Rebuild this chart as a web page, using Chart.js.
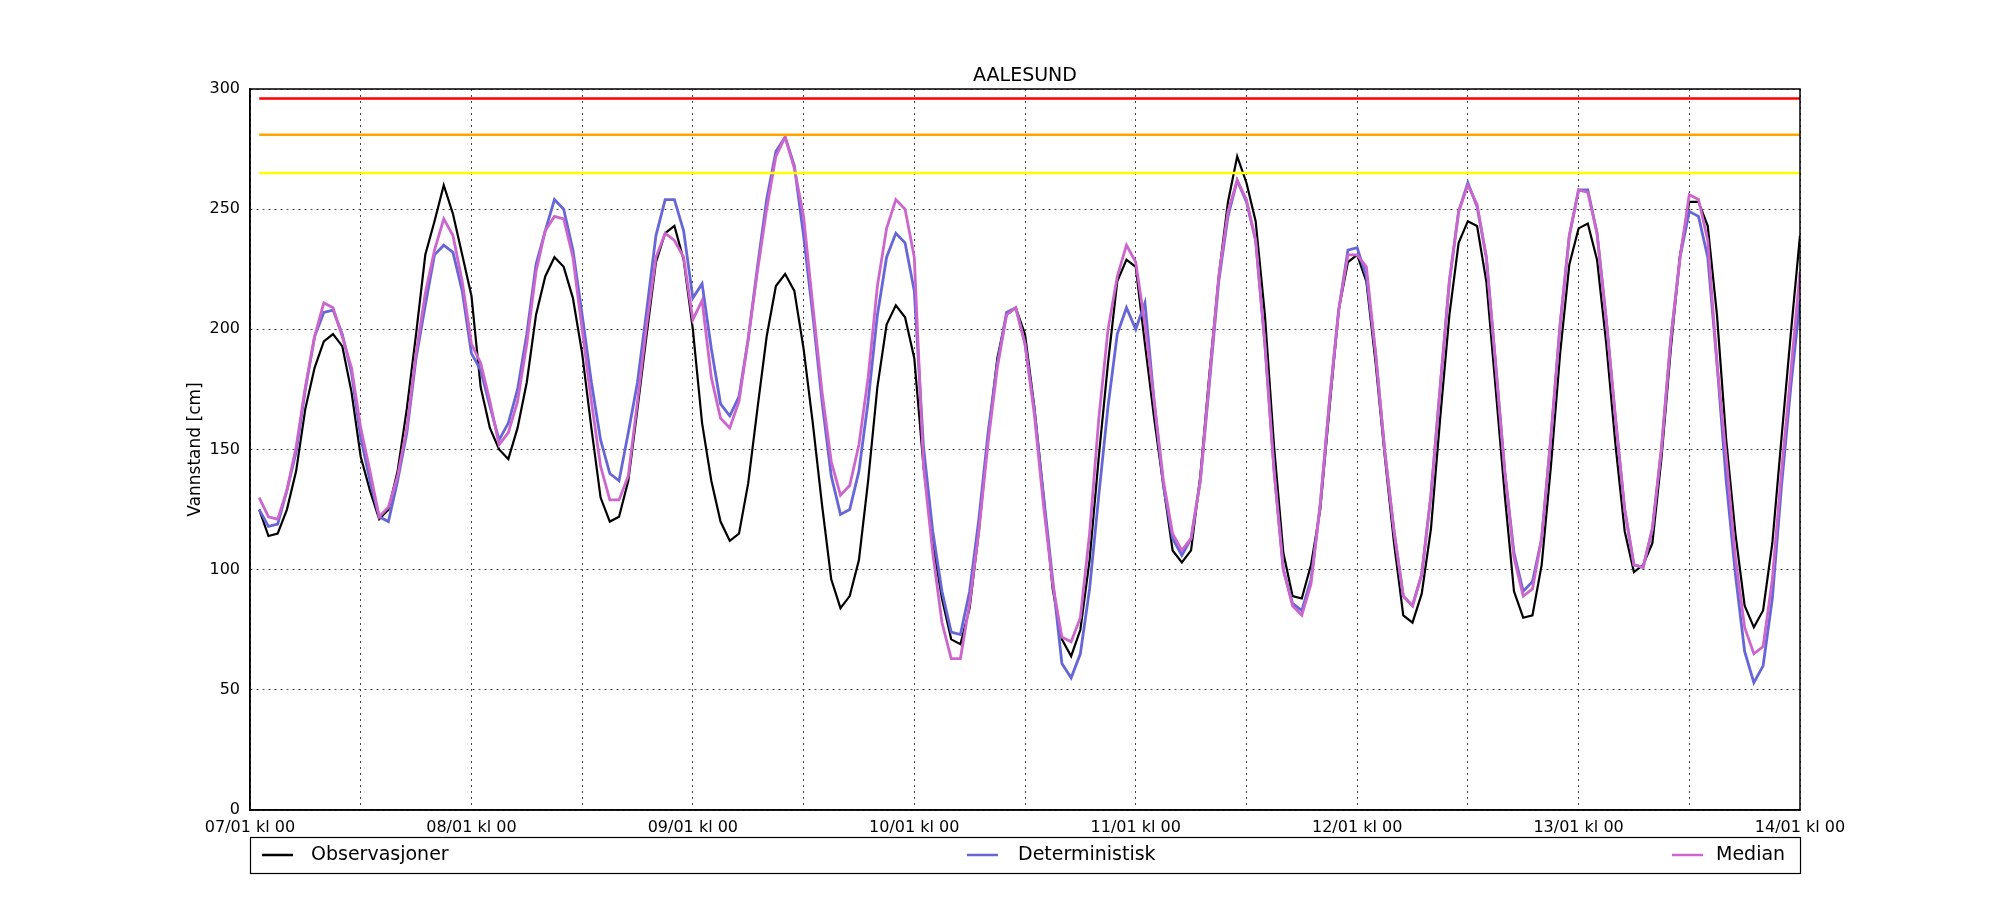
<!DOCTYPE html>
<html><head><meta charset="utf-8">
<script src="https://cdn.jsdelivr.net/npm/chart.js@4"></script>
<style>html,body{margin:0;padding:0;background:#fff}#wrap{width:2000px;height:900px}</style>
</head><body><div id="wrap"><canvas id="c" width="2000" height="900"></canvas></div>
<script>
const dayLabels = ["07/01 kl 00","08/01 kl 00","09/01 kl 00","10/01 kl 00","11/01 kl 00","12/01 kl 00","13/01 kl 00","14/01 kl 00"];
const yTicks = [0,50,100,150,200,250,300];
const thresholds = [296, 281, 265];
const thresholdColors = ["#ff0000", "#ffa500", "#ffff00"];
const hours = Array.from({length:168}, (_, i) => i + 1);
const observasjoner = [125,114,115,125,141,167,184,195,198,193,174,147,133,121,125,141,167,198,231,245,
260,248,231,214,176,159,150,146,159,178,206,222,230,226,213,190,159,130,120,122,
137,167,198,228,240,243,229,200,161,137,120,112,115,136,167,197,218,223,216,192,
161,127,96,84,89,104,137,176,202,210,205,188,143,111,88,71,69,84,116,155,
188,206,209,198,168,131,92,71,64,75,104,147,186,220,229,226,194,163,135,108,
103,108,139,182,222,253,272,261,245,206,151,107,89,88,102,125,167,208,228,231,
220,186,147,111,81,78,90,117,163,206,236,245,243,220,176,131,91,80,81,102,
143,190,227,242,244,229,194,152,116,99,102,111,147,192,231,253,253,243,206,154,
115,85,76,83,111,155,198,239];
const deterministisk = [125,118,119,133,149,175,197,207,208,198,182,155,137,122,120,137,157,188,210,231,
235,232,216,190,183,168,154,161,175,198,227,241,254,250,233,206,178,154,140,137,
157,178,208,239,254,254,241,213,219,192,169,164,172,196,226,254,274,280,268,239,
206,170,139,123,125,141,170,206,230,240,236,216,151,116,91,74,73,91,121,157,
186,207,209,194,167,131,96,61,55,65,92,131,168,198,209,200,211,170,135,113,
106,113,137,178,220,247,262,253,237,194,141,100,86,83,96,127,170,208,233,234,
222,190,149,116,89,85,98,131,176,220,249,261,251,230,186,141,107,91,95,113,
155,202,239,258,258,240,204,163,125,102,101,117,151,196,230,249,247,230,186,137,
98,66,53,60,88,135,176,212];
const median = [130,122,121,133,151,176,197,211,209,197,184,159,141,122,126,139,159,190,215,233,
246,239,220,194,186,170,152,157,170,194,224,241,247,246,230,200,170,143,129,129,
139,170,202,230,240,237,230,204,212,180,163,159,170,196,224,250,272,280,267,247,
210,174,145,131,135,152,180,218,242,254,250,230,143,107,78,63,63,86,116,153,
184,206,209,194,165,127,94,72,70,80,115,163,200,222,235,228,202,170,137,115,
108,113,137,180,222,249,262,254,237,194,141,100,85,81,94,127,170,208,231,231,
226,190,149,116,89,85,98,131,176,220,249,260,252,230,186,141,105,89,92,113,
155,202,239,258,257,240,204,163,125,102,101,117,151,196,230,256,254,237,186,147,
105,76,65,68,96,141,182,224];
const seriesNames = ["Observasjoner","Deterministisk","Median"];
const seriesColors = ["#000000","#6666d6","#cc66cc"];

const pts = arr => arr.map((v,i)=>({x:hours[i], y:v}));
const datasets = [];
thresholds.forEach((t,i)=>datasets.push({data:[{x:hours[0],y:t},{x:hours[hours.length-1],y:t}],borderColor:thresholdColors[i],borderWidth:2.5,pointRadius:0,tension:0}));
[median, deterministisk, observasjoner].forEach((arr,k)=>{
  const idx = 2-k;
  datasets.push({data:pts(arr),borderColor:seriesColors[idx],borderWidth:idx===0?2.2:2.8,pointRadius:0,tension:0});
});

const deco = {id:'deco', afterDraw(chart){
  const ctx = chart.ctx, a = chart.chartArea;
  ctx.save();
  ctx.strokeStyle='#000'; ctx.lineWidth=1.5;
  ctx.strokeRect(a.left, a.top, a.right-a.left, a.bottom-a.top);
  ctx.fillStyle='#000'; ctx.textAlign='center'; ctx.textBaseline='middle';
  ctx.font='19px "DejaVu Sans"';
  ctx.fillText('AALESUND', (a.left+a.right)/2, 76);
  ctx.save(); ctx.translate(196,(a.top+a.bottom)/2); ctx.rotate(-Math.PI/2);
  ctx.font='17px "DejaVu Sans"'; ctx.fillText('Vannstand [cm]',0,0); ctx.restore();
  ctx.strokeStyle='#000'; ctx.lineWidth=1.2;
  ctx.strokeRect(a.left+0.5, 837.5, a.right-a.left, 36);
  const items=[[262,311],[967,1018],[1672,1716]];
  ctx.font='19px "DejaVu Sans"'; ctx.textAlign='left';
  items.forEach((it,i)=>{
    ctx.strokeStyle=seriesColors[i]; ctx.lineWidth=2.5;
    ctx.beginPath(); ctx.moveTo(it[0],855); ctx.lineTo(it[0]+31,855); ctx.stroke();
    ctx.fillText(seriesNames[i], it[1], 855);
  });
  ctx.restore();
}};

new Chart(document.getElementById('c'), {
  type:'line',
  data:{datasets},
  plugins:[deco],
  options:{
    responsive:false, animation:false, devicePixelRatio:1,
    layout:{padding:{left:0,right:200,top:89,bottom:0}},
    plugins:{legend:{display:false},tooltip:{enabled:false},title:{display:false}},
    scales:{
      x:{type:'linear',min:0,max:168,
        afterFit(s){s.height=90;},
        afterBuildTicks(s){s.ticks=[];for(let v=0;v<=168;v+=12)s.ticks.push({value:v});},
        ticks:{autoSkip:false,maxRotation:0,padding:8,color:'#000',font:{family:'DejaVu Sans',size:16},
          callback:v=>v%24===0?dayLabels[v/24]:''},
        grid:{color:'#444',lineWidth:1,drawTicks:false},
        border:{display:true,color:'#000',width:1.5,dash:[2,4]}
      },
      y:{min:0,max:300,
        afterFit(s){s.width=250;},
        afterBuildTicks(s){s.ticks=yTicks.map(v=>({value:v}));},
        ticks:{padding:10,color:'#000',font:{family:'DejaVu Sans',size:16}},
        grid:{color:'#444',lineWidth:1,drawTicks:false},
        border:{display:true,color:'#000',width:1.5,dash:[2,4]}
      }
    }
  }
});
</script></body></html>
